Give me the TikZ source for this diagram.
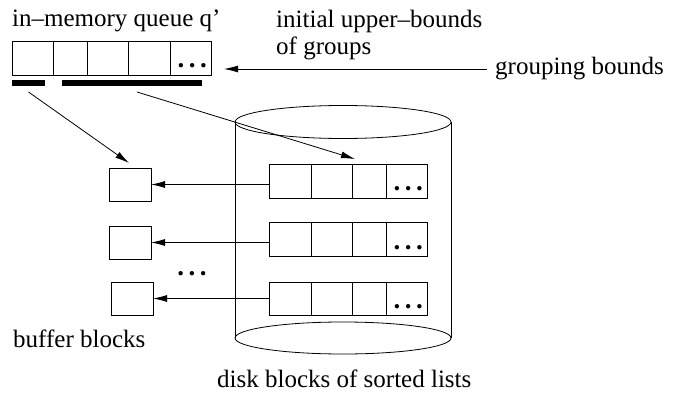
\documentclass[tikz,border=0pt]{standalone}
\usepackage{fontspec}
\setmainfont{Liberation Serif}
\usepackage{tikz}
\usetikzlibrary{positioning, arrows.meta, calc}

\begin{document}
\begin{tikzpicture}[
    x=1pt, y=-1pt,
    every node/.style={font=\fontsize{25}{27}\selectfont},
    cell/.style={draw, rectangle, inner sep=0pt, outer sep=0pt, minimum height=34pt, line width=0.8pt},
    bufbox/.style={draw, rectangle, inner sep=0pt, outer sep=0pt, minimum width=42pt, minimum height=33pt, line width=0.8pt},
    bar/.style={fill=black, rectangle, inner sep=0pt, outer sep=0pt, minimum height=6pt},
    dots/.style={inner sep=0pt, anchor=base east, font=\fontsize{27}{27}\selectfont\bfseries},
    arrow/.style={-{Latex[length=14pt, width=7pt]}, line width=0.8pt},
]
\useasboundingbox (0,0) rectangle (680,398);
% Labels
\node[anchor=base west, inner sep=0pt] (qlabel) at (12,27) {in--memory queue q'};
\node[anchor=base west, inner sep=0pt, align=left] (ublabel) at (276,55) {initial upper--bounds\\of groups};
\node[anchor=base west, inner sep=0pt] (gblabel) at (495,75) {grouping bounds};
\node[anchor=base west, inner sep=0pt] (buflabel) at (13,347) {buffer blocks};
\node[anchor=base west, inner sep=0pt] (disklabel) at (217,387) {disk blocks of sorted lists};
% In-memory queue
\node[cell, minimum width=41pt, anchor=north west] (q1) at (12,41) {};
\node[cell, minimum width=34pt, right=0pt of q1] (q2) {};
\node[cell, minimum width=41pt, right=0pt of q2] (q3) {};
\node[cell, minimum width=42pt, right=0pt of q3] (q4) {};
\node[cell, minimum width=41pt, right=0pt of q4] (q5) {};
\node[dots] (q5dots) at ([shift={(-4,-7)}]q5.south east) {.\hspace{4.5pt}.\hspace{4.5pt}.};
% Group bars
\node[bar, minimum width=33pt, anchor=north west] (bar1) at (12,80) {};
\node[bar, minimum width=140pt, anchor=north west] (bar2) at (62,80) {};
% Disk
\draw[line width=0.8pt] (343,122) ellipse [x radius=108, y radius=16.5];
\draw[line width=0.8pt] (343,338) ellipse [x radius=108, y radius=16];
\draw[line width=0.8pt] (235,122) -- (235,338);
\draw[line width=0.8pt] (451,122) -- (451,338);
% Sorted lists on disk
\node[cell, minimum width=42pt, anchor=north west] (r1c1) at (269,164) {};
\node[cell, minimum width=41pt, right=0pt of r1c1] (r1c2) {};
\node[cell, minimum width=34pt, right=0pt of r1c2] (r1c3) {};
\node[cell, minimum width=41pt, right=0pt of r1c3] (r1c4) {};
\node[dots] (r1dots) at ([shift={(-4,-7)}]r1c4.south east) {.\hspace{4.5pt}.\hspace{4.5pt}.};
\node[cell, minimum width=42pt, anchor=north west] (r2c1) at (269,222) {};
\node[cell, minimum width=41pt, right=0pt of r2c1] (r2c2) {};
\node[cell, minimum width=34pt, right=0pt of r2c2] (r2c3) {};
\node[cell, minimum width=41pt, right=0pt of r2c3] (r2c4) {};
\node[dots] (r2dots) at ([shift={(-4,-7)}]r2c4.south east) {.\hspace{4.5pt}.\hspace{4.5pt}.};
\node[cell, minimum width=42pt, minimum height=33pt, anchor=north west] (r3c1) at (269,282) {};
\node[cell, minimum width=41pt, minimum height=33pt, right=0pt of r3c1] (r3c2) {};
\node[cell, minimum width=34pt, minimum height=33pt, right=0pt of r3c2] (r3c3) {};
\node[cell, minimum width=41pt, minimum height=33pt, right=0pt of r3c3] (r3c4) {};
\node[dots] (r3dots) at ([shift={(-4,-7)}]r3c4.south east) {.\hspace{4.5pt}.\hspace{4.5pt}.};
% Buffer blocks
\node[bufbox, anchor=north west] (b1) at (109,168) {};
\node[bufbox, anchor=north west] (b2) at (109,226) {};
\node[bufbox, anchor=north west] (b3) at (111,282) {};
\node[dots, anchor=base] (bdots) at (192,276) {.\hspace{4.5pt}.\hspace{4.5pt}.};
% Arrows
\draw[arrow] ([shift={(-8,0)}]gblabel.west |- 0,69) -- ([shift={(13,0)}]q5.east |- 0,69);
\draw[arrow] ([shift={(0,6)}]bar1.south) -- ([shift={(-1,-5)}]b1.north);
\draw[arrow] ([shift={(5,6)}]bar2.south) -- ([shift={(3,-5)}]r1c2.north east);
\draw[arrow] (b1.east -| r1c1.west) -- (b1.east);
\draw[arrow] (b2.east -| r2c1.west) -- (b2.east);
\draw[arrow] (b3.east -| r3c1.west) -- (b3.east);
\end{tikzpicture}
\end{document}
